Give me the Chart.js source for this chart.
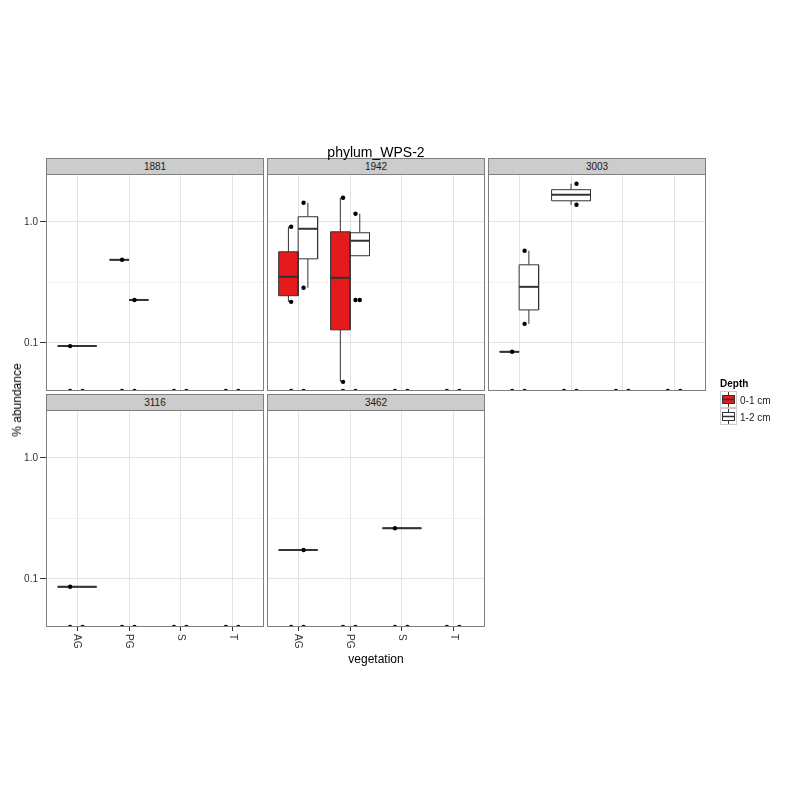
<!DOCTYPE html>
<html>
<head>
<meta charset="utf-8">
<script src="https://cdn.jsdelivr.net/npm/chart.js@4.4.0/dist/chart.umd.min.js"></script>
<style>
html,body{margin:0;padding:0;background:#fff;}
#wrap{position:relative;width:800px;height:800px;overflow:hidden;font-family:"Liberation Sans",Arial,sans-serif;}
#wrap canvas{position:absolute;left:0;top:0;}
.strip{position:absolute;box-sizing:border-box;height:17px;background:#cccccc;border:1px solid #7f7f7f;font-size:10px;line-height:15px;text-align:center;color:#1a1a1a;}
.txt{position:absolute;white-space:nowrap;color:#000;}
</style>
</head>
<body>
<div id="wrap"></div>
<script>
// ---------------- data ----------------
const chartTitle = 'phylum_WPS-2';
const facets = ['1881', '1942', '3003', '3116', '3462'];
const vegetation = ['AG', 'PG', 'S', 'T'];
const depths = ['0-1 cm', '1-2 cm'];
const yAxisTitle = '% abundance';
const xAxisTitle = 'vegetation';
const legendTitle = 'Depth';

// y axis (log10) gridlines: major, minor, major
const yGridValues = [0.1, 0.316, 1.0];
const yTickLabels = ['0.1', '', '1.0'];

// Box statistics (% abundance) per facet / vegetation / depth
const boxFacet = ['1881', '1881', '1881', '1942', '1942', '1942', '1942', '3003', '3003', '3003', '3116', '3462', '3462'];
const boxVeg   = ['AG', 'PG', 'PG', 'AG', 'AG', 'PG', 'PG', 'AG', 'AG', 'PG', 'AG', 'AG', 'S'];
const boxDepth = ['0-1 cm', '0-1 cm', '1-2 cm', '0-1 cm', '1-2 cm', '0-1 cm', '1-2 cm', '0-1 cm', '1-2 cm', '1-2 cm', '0-1 cm', '1-2 cm', '0-1 cm'];
const boxLow   = [0.094, 0.485, 0.226, 0.218, 0.285, 0.0476, 0.524, 0.0843, 0.1435, 1.38, 0.0859, 0.173, 0.262];
const boxQ1    = [0.094, 0.485, 0.226, 0.245, 0.494, 0.128,  0.524, 0.0843, 0.187,  1.49, 0.0859, 0.173, 0.262];
const boxMed   = [0.094, 0.485, 0.226, 0.351, 0.875, 0.344,  0.697, 0.0843, 0.290,  1.67, 0.0859, 0.173, 0.262];
const boxQ3    = [0.094, 0.485, 0.226, 0.565, 1.100, 0.826,  0.811, 0.0843, 0.441,  1.84, 0.0859, 0.173, 0.262];
const boxHigh  = [0.094, 0.485, 0.226, 0.910, 1.436, 1.580,  1.165, 0.0843, 0.576,  2.06, 0.0859, 0.173, 0.262];

// Boxplot outliers
const outFacet = ['1942'];
const outVeg   = ['PG'];
const outDepth = ['1-2 cm'];
const outValue = [0.226];

// Observations (0 = zero abundance, drawn on the axis floor)
const ptFacet = [
  '1881','1881','1881','1881','1881','1881','1881','1881','1881','1881','1881',
  '1942','1942','1942','1942','1942','1942','1942','1942','1942','1942','1942','1942','1942','1942','1942','1942',
  '3003','3003','3003','3003','3003','3003','3003','3003','3003','3003','3003','3003','3003',
  '3116','3116','3116','3116','3116','3116','3116','3116','3116',
  '3462','3462','3462','3462','3462','3462','3462','3462','3462','3462'
];
const ptVeg = [
  'AG','AG','PG','PG','S','S','T','T','AG','PG','PG',
  'AG','AG','PG','PG','S','S','T','T','AG','AG','AG','AG','PG','PG','PG','PG',
  'AG','AG','PG','PG','S','S','T','T','AG','AG','AG','PG','PG',
  'AG','AG','PG','PG','S','S','T','T','AG',
  'AG','AG','PG','PG','S','S','T','T','AG','S'
];
const ptDepth = [
  '0-1 cm','1-2 cm','0-1 cm','1-2 cm','0-1 cm','1-2 cm','0-1 cm','1-2 cm','0-1 cm','0-1 cm','1-2 cm',
  '0-1 cm','1-2 cm','0-1 cm','1-2 cm','0-1 cm','1-2 cm','0-1 cm','1-2 cm','0-1 cm','0-1 cm','1-2 cm','1-2 cm','0-1 cm','0-1 cm','1-2 cm','1-2 cm',
  '0-1 cm','1-2 cm','0-1 cm','1-2 cm','0-1 cm','1-2 cm','0-1 cm','1-2 cm','0-1 cm','1-2 cm','1-2 cm','1-2 cm','1-2 cm',
  '0-1 cm','1-2 cm','0-1 cm','1-2 cm','0-1 cm','1-2 cm','0-1 cm','1-2 cm','0-1 cm',
  '0-1 cm','1-2 cm','0-1 cm','1-2 cm','0-1 cm','1-2 cm','0-1 cm','1-2 cm','1-2 cm','0-1 cm'
];
const ptValue = [
  0,0,0,0,0,0,0,0,0.094,0.485,0.226,
  0,0,0,0,0,0,0,0,0.91,0.218,1.436,0.285,1.58,0.0476,1.165,0.226,
  0,0,0,0,0,0,0,0,0.0843,0.576,0.1435,2.06,1.38,
  0,0,0,0,0,0,0,0,0.0859,
  0,0,0,0,0,0,0,0,0.173,0.262
];

// ---------------- style / layout ----------------
const FONT = '"Liberation Sans", Arial, sans-serif';
const depthFill = ['#E41A1C', '#FFFFFF'];
const LINE = '#333333';
const Y_MIN = 0.0400, Y_MAX = 2.48;
const X_MIN = 0.4, X_MAX = 4.6;
const COL_LEFT = [46, 267, 488], PANEL_W = 218;
const ROW_TOP = [174, 410], PANEL_H = 217, STRIP_H = 16;
const DODGE = 0.1875;            // half of dodge width 0.75 / 2
const PT_OFFSET = [-0.135, 0.105];
const Y_AXIS_W = 46;

const wrap = document.getElementById('wrap');

function addText(txt, css) {
  const d = document.createElement('div');
  d.className = 'txt';
  d.textContent = txt;
  Object.assign(d.style, css);
  wrap.appendChild(d);
  return d;
}

function buildDatasets(facet) {
  const ds = [];
  boxFacet.forEach((f, i) => {
    if (f !== facet) return;
    const x0 = vegetation.indexOf(boxVeg[i]) + 1;
    const n = boxFacet.filter((g, j) => g === facet && boxVeg[j] === boxVeg[i]).length;
    const d = depths.indexOf(boxDepth[i]);
    const hw = n > 1 ? DODGE : DODGE * 2;
    const cx = n > 1 ? x0 + (d === 0 ? -DODGE : DODGE) : x0;
    const common = { showLine: true, pointRadius: 0, tension: 0, borderColor: LINE, borderCapStyle: 'butt' };
    ds.push(Object.assign({}, common, {
      data: [{x: cx - hw, y: boxQ1[i]}, {x: cx - hw, y: boxQ3[i]}, {x: cx + hw, y: boxQ3[i]}, {x: cx + hw, y: boxQ1[i]}, {x: cx - hw, y: boxQ1[i]}],
      fill: 'shape', backgroundColor: depthFill[d], borderWidth: 1, order: 2
    }));
    ds.push(Object.assign({}, common, {
      data: [{x: cx - hw, y: boxMed[i]}, {x: cx + hw, y: boxMed[i]}],
      fill: false, borderWidth: 2, order: 1
    }));
    ds.push(Object.assign({}, common, {
      data: [{x: cx, y: boxQ3[i]}, {x: cx, y: boxHigh[i]}], fill: false, borderWidth: 1, order: 3
    }));
    ds.push(Object.assign({}, common, {
      data: [{x: cx, y: boxLow[i]}, {x: cx, y: boxQ1[i]}], fill: false, borderWidth: 1, order: 3
    }));
  });
  const outPts = [];
  outFacet.forEach((f, i) => {
    if (f !== facet) return;
    const x0 = vegetation.indexOf(outVeg[i]) + 1;
    const n = boxFacet.filter((g, j) => g === facet && boxVeg[j] === outVeg[i]).length;
    const d = depths.indexOf(outDepth[i]);
    outPts.push({x: n > 1 ? x0 + (d === 0 ? -DODGE : DODGE) : x0, y: outValue[i]});
  });
  const pts = [];
  ptFacet.forEach((f, i) => {
    if (f !== facet) return;
    const x0 = vegetation.indexOf(ptVeg[i]) + 1;
    const d = depths.indexOf(ptDepth[i]);
    pts.push({x: x0 + PT_OFFSET[d], y: ptValue[i] > 0 ? ptValue[i] : Y_MIN});
  });
  ds.push({ data: pts.concat(outPts), showLine: false, pointRadius: 2.2, pointBackgroundColor: '#000',
            pointBorderWidth: 0, borderColor: '#000', clip: 0, order: 0 });
  return ds;
}

const panelBorder = {
  id: 'panelBorder',
  afterDraw(chart) {
    const a = chart.chartArea, ctx = chart.ctx;
    ctx.save();
    ctx.strokeStyle = '#7f7f7f';
    ctx.lineWidth = 1;
    ctx.strokeRect(a.left + 0.5, a.top + 0.5, a.right - a.left - 1, a.bottom - a.top - 1);
    ctx.restore();
  }
};

const xLabels = {
  id: 'xLabels',
  afterDraw(chart) {
    const s = chart.scales.x, ctx = chart.ctx, y = chart.chartArea.bottom + 7;
    ctx.save();
    ctx.font = '10px ' + FONT;
    ctx.fillStyle = '#333';
    ctx.textAlign = 'left';
    ctx.textBaseline = 'middle';
    vegetation.forEach((v, i) => {
      ctx.save();
      ctx.translate(s.getPixelForValue(i + 1), y);
      ctx.rotate(Math.PI / 2);
      ctx.fillText(v, 0, 0);
      ctx.restore();
    });
    ctx.restore();
  }
};

facets.forEach((facet, fi) => {
  const col = fi % 3, row = Math.floor(fi / 3);
  const left = COL_LEFT[col], top = ROW_TOP[row];
  const isLeft = col === 0, isBottom = row === 1;
  const yW = isLeft ? Y_AXIS_W : 0;

  const strip = document.createElement('div');
  strip.className = 'strip';
  strip.textContent = facet;
  Object.assign(strip.style, {left: left + 'px', top: (top - STRIP_H) + 'px', width: PANEL_W + 'px'});
  wrap.appendChild(strip);

  const canvas = document.createElement('canvas');
  canvas.width = 800; canvas.height = 800;
  wrap.appendChild(canvas);

  new Chart(canvas, {
    type: 'line',
    data: { datasets: buildDatasets(facet) },
    options: {
      responsive: false, animation: false, events: [],
      layout: { padding: { left: left - yW, top: top, right: 800 - left - PANEL_W, bottom: 800 - top - PANEL_H } },
      plugins: { legend: { display: false }, tooltip: { enabled: false }, title: { display: false } },
      scales: {
        x: {
          type: 'linear', min: X_MIN, max: X_MAX, bounds: 'data',
          afterBuildTicks: s => { s.ticks = vegetation.map((v, i) => ({ value: i + 1 })); },
          afterFit: s => { s.height = 0; },
          grid: { color: '#e3e3e3', lineWidth: 1, drawTicks: isBottom, tickLength: 4, tickColor: '#333' },
          border: { display: false },
          ticks: { display: false }
        },
        y: {
          type: 'logarithmic', min: Y_MIN, max: Y_MAX, bounds: 'data',
          afterBuildTicks: s => { s.ticks = yGridValues.map(v => ({ value: v })); },
          afterFit: s => { s.width = yW; },
          grid: {
            color: c => (yTickLabels[c.index] === '' ? '#f3f3f3' : '#e3e3e3'),
            lineWidth: 1, drawTicks: isLeft, tickLength: 6,
            tickColor: c => (yTickLabels[c.index] === '' ? 'rgba(0,0,0,0)' : '#333')
          },
          border: { display: false },
          ticks: {
            display: isLeft, padding: 2, color: '#333',
            font: { size: 10, family: FONT },
            callback: (v, i) => yTickLabels[i]
          }
        }
      }
    },
    plugins: isBottom ? [panelBorder, xLabels] : [panelBorder]
  });
});

// titles
addText(chartTitle, { left: '376px', top: '152px', fontSize: '14px', transform: 'translate(-50%,-50%)' });
addText(xAxisTitle, { left: '376px', top: '659px', fontSize: '12px', transform: 'translate(-50%,-50%)' });
addText(yAxisTitle, { left: '17px', top: '400px', fontSize: '12px', transform: 'translate(-50%,-50%) rotate(-90deg)' });

// legend
addText(legendTitle, { left: '720px', top: '383px', fontSize: '10px', fontWeight: 'bold', transform: 'translateY(-50%)' });
depths.forEach((d, i) => {
  const top = 391 + i * 17;
  const holder = document.createElement('div');
  holder.style.cssText = 'position:absolute;left:720px;top:' + top + 'px;width:17px;height:17px;';
  holder.innerHTML =
    '<svg width="17" height="17" xmlns="http://www.w3.org/2000/svg">' +
    '<rect x="0.5" y="0.5" width="16" height="16" fill="#fff" stroke="#cccccc"/>' +
    '<line x1="8.5" y1="1" x2="8.5" y2="16" stroke="' + LINE + '"/>' +
    '<rect x="2.5" y="4.5" width="12" height="8" fill="' + depthFill[i] + '" stroke="' + LINE + '"/>' +
    '<line x1="2.5" y1="8.5" x2="14.5" y2="8.5" stroke="' + LINE + '" stroke-width="1.5"/>' +
    '</svg>';
  wrap.appendChild(holder);
  addText(d, { left: '740px', top: (top + 8.5) + 'px', fontSize: '10px', transform: 'translateY(-50%)', color: '#1a1a1a' });
});
</script>
</body>
</html>
